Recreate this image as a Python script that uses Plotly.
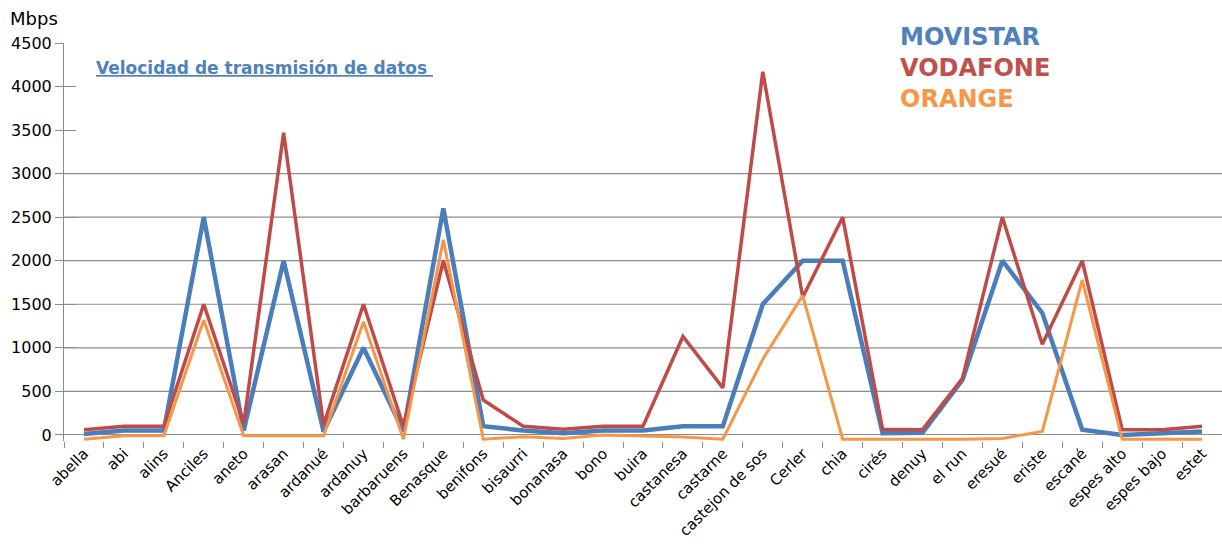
import plotly.graph_objects as go

categories = ["abella", "abi", "alins", "Anciles", "aneto", "arasan", "ardanué", "ardanuy",
              "barbaruens", "Benasque", "benifons", "bisaurri", "bonanasa", "bono", "buira",
              "castanesa", "castarne", "castejon de sos", "Cerler", "chia", "cirés", "denuy",
              "el run", "eresué", "eriste", "escané", "espes alto", "espes bajo", "estet"]

movistar = [10, 50, 50, 2500, 50, 2000, 40, 1000, 40, 2600, 100, 50, 20, 50, 50, 100, 100,
            1500, 2000, 2000, 20, 25, 630, 2000, 1400, 60, 0, 20, 40]
vodafone = [60, 100, 100, 1500, 130, 3470, 115, 1500, 100, 2000, 400, 100, 65, 100, 100, 1130,
            540, 4170, 1580, 2500, 65, 60, 650, 2500, 1040, 2000, 60, 60, 100]
orange = [-50, -10, -10, 1320, -10, -10, -10, 1300, -50, 2240, -50, -20, -40, 0, -10, -25, -50,
          870, 1600, -50, -50, -50, -50, -40, 40, 1780, -50, -50, -50]

series_names = ["MOVISTAR", "VODAFONE", "ORANGE"]
line_colors = ["#4A7EBB", "#BE4B48", "#F79646"]
text_colors = ["#4F81BD", "#C0504D", "#F79646"]
line_widths = [4.5, 3.5, 3]

y_ticks = [0, 500, 1000, 1500, 2000, 2500, 3000, 3500, 4000, 4500]
grid_values = [500, 1000, 1500, 2000, 2500, 3000]

title_text = "Velocidad de transmisión de datos "
y_unit = "Mbps"

FONT = "DejaVu Sans"
AXIS_GRAY = "#8C8C8C"

fig = go.Figure()
for name, vals, col, w in zip(series_names, [movistar, vodafone, orange], line_colors, line_widths):
    fig.add_trace(go.Scatter(x=categories, y=vals, mode="lines", name=name,
                             line=dict(color=col, width=w), showlegend=False,
                             hoverinfo="x+y+name"))
# empty trace so the overlaid tick axis (cross ticks) is drawn
fig.add_trace(go.Scatter(x=[], y=[], yaxis="y2", showlegend=False, hoverinfo="skip"))

L, R, T, B, W, H = 64, 0, 43, 105, 1222, 546
PW, PH = W - L - R, H - T - B
def px(x):
    return (x - L) / PW
def py(y):
    return (H - B - y) / PH

shapes = []
for g in grid_values:
    shapes.append(dict(type="line", xref="paper", x0=0, x1=1, yref="y", y0=g, y1=g,
                       line=dict(color=AXIS_GRAY, width=1.2), layer="below"))

annotations = [
    dict(text=y_unit, x=px(8), y=py(18), xref="paper", yref="paper", xanchor="left",
         yanchor="middle", showarrow=False, font=dict(family=FONT, size=18, color="#000")),
    dict(text="<b><u>" + title_text + "</u></b>", x=px(94), y=py(68), xref="paper", yref="paper",
         xanchor="left", yanchor="middle", showarrow=False,
         font=dict(family=FONT, size=17, color="#4F81BD")),
]
for i, (name, col) in enumerate(zip(series_names, text_colors)):
    annotations.append(dict(text="<b>" + name + "</b>", x=px(898), y=py(37 + 31 * i),
                            xref="paper", yref="paper", xanchor="left", yanchor="middle",
                            showarrow=False, font=dict(family=FONT, size=24, color=col)))

fig.update_layout(
    width=W, height=H,
    margin=dict(l=L, r=R, t=T, b=B, pad=0),
    paper_bgcolor="white", plot_bgcolor="white",
    font=dict(family=FONT, color="#000"),
    shapes=shapes, annotations=annotations,
    xaxis=dict(type="category", categoryorder="array", categoryarray=categories,
               range=[-0.5, len(categories) - 0.5], tickson="boundaries",
               ticks="outside", ticklen=6, tickcolor=AXIS_GRAY, tickwidth=1,
               showline=False, showgrid=False, zeroline=False,
               tickangle=-45, tickfont=dict(family=FONT, size=15, color="#000")),
    yaxis=dict(range=[-70, 4500], tickmode="array", tickvals=y_ticks,
               ticks="outside", ticklen=8, tickcolor=AXIS_GRAY, tickwidth=1,
               showline=True, linecolor=AXIS_GRAY, linewidth=1,
               showgrid=False, zeroline=True, zerolinecolor=AXIS_GRAY, zerolinewidth=1.2,
               tickfont=dict(family=FONT, size=16, color="#000")),
    yaxis2=dict(range=[-70, 4500], overlaying="y", side="left", anchor="x", tickmode="array",
                tickvals=y_ticks, ticks="inside", ticklen=12, tickcolor=AXIS_GRAY,
                showticklabels=False, showline=False, showgrid=False, zeroline=False),
)

fig.write_html("out.html", config={"displayModeBar": False},
               post_script="document.body.style.margin='0';")
